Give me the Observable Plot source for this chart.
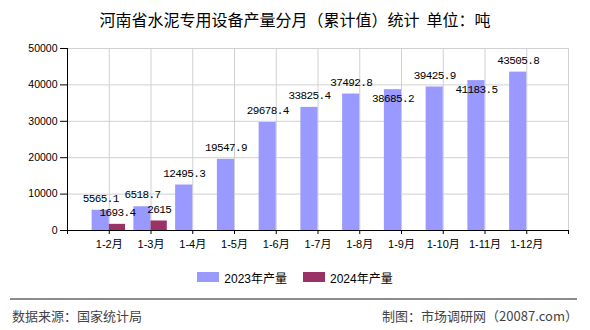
<!DOCTYPE html>
<html>
<head>
<meta charset="utf-8">
<script src="https://cdn.jsdelivr.net/npm/d3@7"></script>
<script src="https://cdn.jsdelivr.net/npm/@observablehq/plot@0.6"></script>
<style>
  html, body { margin: 0; padding: 0; background: #fff; }
  body { width: 590px; height: 330px; position: relative; overflow: hidden;
         font-family: "Noto Sans CJK SC", "Liberation Sans", sans-serif; }
  #title { position: absolute; top: 8px; left: 0; width: 590px; text-align: center;
           font-size: 16px; line-height: 22px; color: #000; }
  #chart { position: absolute; top: 36px; left: 0; }
  #chart text.lbl { letter-spacing: -0.6px; }
  #legend { position: absolute; top: 268px; left: 0; width: 590px; height: 18px;
            display: flex; justify-content: center; align-items: center; font-size: 12px; color: #000;
            font-family: "Liberation Sans", "Noto Sans CJK SC", sans-serif; }
  .item { display: flex; align-items: center; margin: 0 8px; }
  .sw { width: 22px; height: 10px; margin-right: 5px; }
  #rule { position: absolute; top: 298px; left: 10px; width: 567px; height: 2px; background: #8c8c8c; }
  .foot { position: absolute; top: 307px; font-size: 13px; line-height: 18px; color: #444; }
</style>
</head>
<body>
<div id="title">河南省水泥专用设备产量分月（累计值）统计&nbsp; 单位：吨</div>
<div id="chart"></div>
<div id="legend"></div>
<div id="rule"></div>
<div class="foot" style="left:12px">数据来源：国家统计局</div>
<div class="foot" style="right:12px">制图：市场调研网（20087.com）</div>
<script>
const categories = ["1-2月","1-3月","1-4月","1-5月","1-6月","1-7月","1-8月","1-9月","1-10月","1-11月","1-12月"];
const prod2023 = [5565.1, 6518.7, 12495.3, 19547.9, 29678.4, 33825.4, 37492.8, 38685.2, 39425.9, 41183.5, 43505.8];
const prod2024 = [1693.4, 2615];
const seriesNames = ["2023年产量", "2024年产量"];
const colors = ["#9999ff", "#993366"];
const yTicks = [0, 10000, 20000, 30000, 40000, 50000];

const d23 = prod2023.map((v, k) => ({i: k + 1, v}));
const d24 = prod2024.map((v, k) => ({i: k + 1, v}));

const labelFont = {fontFamily: "Liberation Mono, DejaVu Sans Mono, monospace", fontSize: 11, className: "lbl"};

const base = {
  width: 590, height: 220,
  marginLeft: 67, marginRight: 22, marginTop: 12, marginBottom: 26,
  x: {type: "linear", domain: [0, 12]},
  y: {domain: [0, 50000]},
  style: {fontFamily: "Liberation Sans, Noto Sans CJK SC, sans-serif", background: "transparent"}
};

function marksBase() {
  return [
    Plot.gridY(yTicks.slice(1), {stroke: "#d0d0d0", strokeOpacity: 1}),
    Plot.gridX(d3.range(1, 13), {stroke: "#d0d0d0", strokeOpacity: 1}),
    Plot.rectY(d23, {x1: d => d.i - 0.41, x2: d => d.i, y: "v", fill: colors[0], inset: 0}),
    Plot.rectY(d24, {x1: d => d.i, x2: d => d.i + 0.39, y: "v", fill: colors[1], inset: 0}),
    Plot.ruleX([0], {stroke: "#000"}),
    Plot.ruleY([0], {stroke: "#000"}),
    Plot.axisY({ticks: yTicks, tickSize: 7, tickPadding: 3, fontSize: 10.5, label: null, stroke: "#000", color: "#000",
                tickFormat: d => String(d)}),
    Plot.axisX({ticks: d3.range(0, 13), tickSize: 4, tickPadding: 6, fontSize: 11, label: null,
                tickFormat: i => categories[i - 1] ?? ""})
  ];
}

// first pass to obtain scales for label collision avoidance
const probe = Plot.plot({...base, marks: marksBase()});
const sx = probe.scale("x"), sy = probe.scale("y");
const fmt = v => String(v);
const up = [], down = [];
let prev = null;
d23.forEach(d => {
  const text = fmt(d.v);
  const w = text.length * 6;
  const px = sx.apply(d.i - 0.205);
  let py = sy.apply(d.v) - 12;
  const item = {...d, text};
  if (prev && Math.abs(px - prev.px) < (w + prev.w) / 2 && Math.abs(py - prev.py) < 12) {
    py = sy.apply(d.v) + 9;
    down.push(item);
  } else up.push(item);
  prev = {px, py, w};
});

const chart = Plot.plot({
  ...base,
  marks: [
    ...marksBase(),
    Plot.text(up, {x: d => d.i - 0.205, y: "v", text: "text", dy: -12, fill: "#000", ...labelFont}),
    Plot.text(down, {x: d => d.i - 0.205, y: "v", text: "text", dy: 9, fill: "#000", ...labelFont}),
    Plot.text(d24, {x: d => d.i + 0.195, y: "v", text: d => fmt(d.v), dy: -12, fill: "#000", ...labelFont})
  ]
});
chart.querySelectorAll("g[font-family*='Mono'] text").forEach(t => { t.style.letterSpacing = "-0.6px"; });
document.getElementById("chart").appendChild(chart);

const legend = document.getElementById("legend");
seriesNames.forEach((n, k) => {
  const it = document.createElement("div");
  it.className = "item";
  it.innerHTML = `<div class="sw" style="background:${colors[k]}"></div><span>${n}</span>`;
  legend.appendChild(it);
});
</script>
</body>
</html>
